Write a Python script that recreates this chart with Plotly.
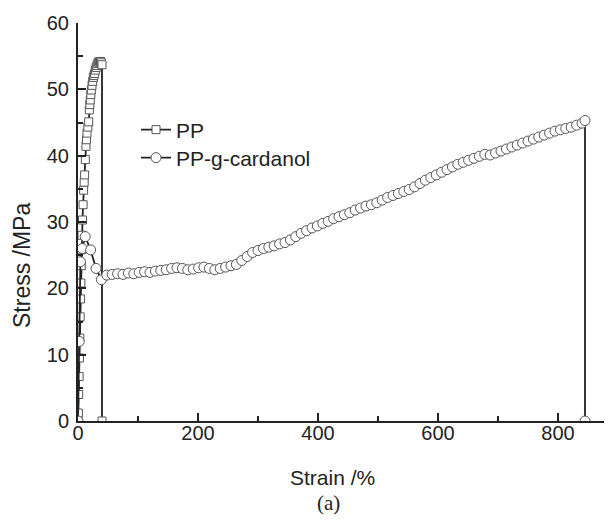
import plotly.graph_objects as go

# PP data (strain %, stress MPa)
pp_strain = [0, 0.6, 1.2, 1.8, 2.4, 3.0, 3.6, 4.2, 4.8, 5.5, 6.1, 6.7, 7.5, 8.5, 9.4, 10.3,
             11.0, 12.2, 13.3, 14.2, 15.0, 16.4, 17.8, 18.9, 19.7, 20.5, 21.4, 22.2, 23.4,
             24.5, 25.6, 26.7, 27.8, 29.0, 30.3, 31.7, 33.0, 34.5, 36.0, 37.5, 38.8, 40.0,
             40.0]
pp_stress = [0, 1.2, 4.0, 6.7, 9.5, 12.5, 15.7, 18.4, 20.8, 23.4, 25.8, 28.0, 30.3, 32.6,
             34.8, 36.0, 37.1, 39.4, 41.4, 42.4, 43.4, 44.3, 45.1, 46.9, 47.7, 48.4, 49.2,
             49.9, 50.6, 51.2, 51.8, 52.1, 52.4, 52.9, 53.3, 53.6, 53.9, 54.1, 54.2, 54.2,
             54.0, 53.7, 0]

# PP-g-cardanol data
cd_strain = [0, 2, 4, 7, 12, 21, 30, 39, 48, 57, 66, 75, 84, 93, 102, 111, 120, 129, 138,
             147, 156, 165, 174, 183, 192, 201, 210, 219, 228, 237, 246, 255, 264, 273, 282,
             291, 300, 309, 318, 327, 336, 345, 354, 363, 372, 381, 390, 399, 408, 417, 426,
             435, 444, 453, 462, 471, 480, 489, 498, 507, 516, 525, 534, 543, 552, 561, 570,
             579, 588, 597, 606, 615, 624, 633, 642, 651, 660, 669, 678, 687, 696, 705, 714,
             723, 732, 741, 750, 759, 768, 777, 786, 795, 804, 813, 822, 831, 840, 845, 845]
cd_stress = [0, 12.0, 24.0, 26.0, 27.8, 25.8, 23.0, 21.3, 22.0, 22.1, 22.2, 22.1, 22.3,
             22.2, 22.4, 22.5, 22.4, 22.6, 22.7, 22.8, 23.0, 23.1, 23.0, 22.8, 22.9, 23.1,
             23.2, 23.0, 22.8, 23.0, 23.2, 23.4, 23.6, 24.2, 24.8, 25.4, 25.7, 26.0, 26.2,
             26.4, 26.7, 26.9, 27.3, 27.8, 28.3, 28.7, 29.1, 29.4, 29.8, 30.1, 30.5, 30.8,
             31.1, 31.4, 31.8, 32.1, 32.4, 32.6, 32.9, 33.3, 33.7, 34.0, 34.3, 34.6, 34.9,
             35.3, 35.8, 36.3, 36.7, 37.1, 37.5, 37.9, 38.3, 38.7, 39.0, 39.3, 39.6, 39.9,
             40.2, 40.1, 40.4, 40.7, 41.0, 41.3, 41.6, 41.9, 42.2, 42.5, 42.8, 43.1, 43.4,
             43.7, 43.9, 44.1, 44.3, 44.6, 44.9, 45.3, 0]

x_ticks = [0, 200, 400, 600, 800]
y_ticks = [0, 10, 20, 30, 40, 50, 60]

# page body has an 8px margin; plot area spans px x 78..612, y 23..421 of the page
PL, PT, PW, PH = 70, 15, 534, 398

def px_x(x):
    return (x - 78) / PW

def px_y(y):
    return (421 - y) / PH

fig = go.Figure()
fig.add_trace(go.Scatter(
    x=pp_strain, y=pp_stress, mode="lines+markers", name="PP", legend="legend",
    line=dict(color="#222222", width=1.8),
    marker=dict(symbol="square", size=8, color="white",
                line=dict(color="#555555", width=1)),
))
fig.add_trace(go.Scatter(
    x=cd_strain, y=cd_stress, mode="lines+markers", name="PP-g-cardanol", legend="legend2",
    line=dict(color="#222222", width=1.8),
    marker=dict(symbol="circle", size=10, color="white",
                line=dict(color="#555555", width=1)),
))

axis_common = dict(
    showline=True, linecolor="#222222", linewidth=2,
    ticks="inside", ticklen=8, tickwidth=1.5, tickcolor="#222222",
    showgrid=False, zeroline=False, mirror=False,
    tickfont=dict(family="Liberation Sans, Arial", size=20, color="#222222"),
)

legend_common = dict(xanchor="left", yanchor="middle", bgcolor="rgba(0,0,0,0)",
                     borderwidth=0, itemwidth=30,
                     font=dict(family="Liberation Sans, Arial", size=21, color="#222222"))

fig.update_layout(
    width=604, height=513,
    margin=dict(l=PL, r=0, t=PT, b=513 - PT - PH),
    paper_bgcolor="white", plot_bgcolor="white",
    xaxis=dict(range=[0, 890], tickvals=x_ticks, ticktext=[str(v) for v in x_ticks],
               ticklabelstandoff=-7,
               minor=dict(dtick=100, ticks="inside", ticklen=5, tickwidth=1.5,
                          tickcolor="#222222"),
               **axis_common),
    yaxis=dict(range=[0, 60], tickvals=y_ticks, ticktext=[str(v) for v in y_ticks],
               ticklabelstandoff=3,
               minor=dict(dtick=5, ticks="inside", ticklen=5, tickwidth=1.5,
                          tickcolor="#222222"),
               **axis_common),
    showlegend=True,
    legend=dict(x=px_x(136), y=px_y(130), **legend_common),
    legend2=dict(x=px_x(136), y=px_y(158), **legend_common),
    annotations=[
        dict(text="Strain /%", xref="paper", yref="paper", x=px_x(332), y=px_y(477),
             showarrow=False, xanchor="center", yanchor="middle",
             font=dict(family="Liberation Sans, Arial", size=21, color="#222222")),
        dict(text="(a)", xref="paper", yref="paper", x=px_x(328), y=px_y(503),
             showarrow=False, xanchor="center", yanchor="middle",
             font=dict(family="Liberation Serif, Times New Roman", size=21, color="#222222")),
        dict(text="Stress /MPa", xref="paper", yref="paper", x=px_x(22), y=px_y(266),
             showarrow=False, xanchor="center", yanchor="middle", textangle=-90,
             font=dict(family="Liberation Sans, Arial", size=23, color="#222222")),
    ],
)

fig.write_html("out.html")
